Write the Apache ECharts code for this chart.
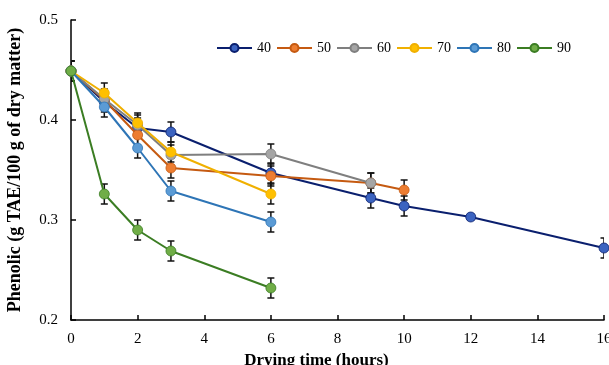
<!DOCTYPE html>
<html>
<head>
<meta charset="utf-8">
<script src="https://cdn.jsdelivr.net/npm/echarts@6/dist/echarts.min.js"></script>
<style>
  html, body { margin: 0; padding: 0; background: #fff; }
  #chart { width: 609px; height: 365px; }
</style>
</head>
<body>
<div id="chart"></div>
<script>
// 数据
const temps = ['40', '50', '60', '70', '80', '90'];

const x40 = [0, 1, 2, 3, 6, 9, 10, 12, 16];
const y40 = [0.449, 0.418, 0.392, 0.388, 0.347, 0.322, 0.314, 0.303, 0.272];
const e40 = [0.01, 0.01, 0.01, 0.01, 0.01, 0.01, 0.01, 0.003, 0.01];

const x50 = [0, 1, 2, 3, 6, 9, 10];
const y50 = [0.449, 0.420, 0.385, 0.352, 0.344, 0.337, 0.330];
const e50 = [0.01, 0.01, 0.01, 0.01, 0.01, 0.01, 0.01];

const x60 = [0, 1, 2, 3, 6, 9];
const y60 = [0.449, 0.421, 0.395, 0.365, 0.366, 0.337];
const e60 = [0.01, 0.01, 0.01, 0.01, 0.01, 0.01];

const x70 = [0, 1, 2, 3, 6];
const y70 = [0.449, 0.427, 0.397, 0.368, 0.326];
const e70 = [0.01, 0.01, 0.01, 0.01, 0.01];

const x80 = [0, 1, 2, 3, 6];
const y80 = [0.449, 0.413, 0.372, 0.329, 0.298];
const e80 = [0.01, 0.01, 0.01, 0.01, 0.01];

const x90 = [0, 1, 2, 3, 6];
const y90 = [0.449, 0.326, 0.290, 0.269, 0.232];
const e90 = [0.01, 0.01, 0.01, 0.01, 0.01];

const xs = [x40, x50, x60, x70, x80, x90];
const ys = [y40, y50, y60, y70, y80, y90];
const es = [e40, e50, e60, e70, e80, e90];

const lineColors = ['#0a1f6e', '#c55a11', '#7f7f7f', '#f0b000', '#2e75b6', '#3b7d23'];
const markColors = ['#3b63c0', '#ed7d31', '#a5a5a5', '#ffc000', '#5b9bd5', '#70ad47'];

const serif = '"Liberation Serif", "Times New Roman", serif';

// 误差线
function errorRender(params, api) {
    const x = api.value(0);
    const lo = api.coord([x, api.value(1)]);
    const hi = api.coord([x, api.value(2)]);
    const w = 3.5;
    const style = { stroke: '#111', lineWidth: 1.5 };
    return {
        type: 'group',
        children: [
            { type: 'line', shape: { x1: lo[0], y1: lo[1], x2: hi[0], y2: hi[1] }, style: style },
            { type: 'line', shape: { x1: lo[0] - w, y1: lo[1], x2: lo[0] + w, y2: lo[1] }, style: style },
            { type: 'line', shape: { x1: hi[0] - w, y1: hi[1], x2: hi[0] + w, y2: hi[1] }, style: style }
        ]
    };
}

const series = [];
temps.forEach((t, i) => {
    series.push({
        name: t + '_err',
        type: 'custom',
        renderItem: errorRender,
        data: xs[i].map((x, j) => [x, ys[i][j] - es[i][j], ys[i][j] + es[i][j]]),
        clip: true,
        z: 1,
        silent: true
    });
});
temps.forEach((t, i) => {
    series.push({
        name: t,
        type: 'line',
        data: xs[i].map((x, j) => [x, ys[i][j]]),
        symbol: 'circle',
        symbolSize: 10,
        lineStyle: { color: lineColors[i], width: 2 },
        itemStyle: { color: markColors[i], borderColor: lineColors[i], borderWidth: 0.8 },
        z: 2 + i
    });
});

const chart = echarts.init(document.getElementById('chart'));
chart.setOption({
    animation: false,
    backgroundColor: '#fff',
    grid: { left: 71, right: 5, top: 20, bottom: 45, outerBoundsMode: 'none' },
    legend: {
        data: temps,
        left: 211,
        top: 36,
        itemWidth: 35,
        itemHeight: 10,
        itemGap: 5,
        textStyle: { fontFamily: serif, fontSize: 14, color: '#000' }
    },
    xAxis: {
        type: 'value',
        min: 0,
        max: 16,
        interval: 2,
        name: 'Drying time (hours)',
        nameLocation: 'middle',
        nameGap: 30,
        nameTextStyle: { fontFamily: serif, fontSize: 17, fontWeight: 'bold', color: '#000', padding: [0, 42, 0, 0] },
        axisLine: { lineStyle: { color: '#000', width: 1.5 } },
        axisTick: { inside: true, length: 5, lineStyle: { color: '#000', width: 1.5 } },
        axisLabel: { fontFamily: serif, fontSize: 15, color: '#000', margin: 12 },
        splitLine: { show: false }
    },
    yAxis: {
        type: 'value',
        min: 0.2,
        max: 0.5,
        interval: 0.1,
        name: 'Phenolic (g TAE/100 g of dry matter)',
        nameLocation: 'middle',
        nameGap: 47,
        nameTextStyle: { fontFamily: serif, fontSize: 18, fontWeight: 'bold', color: '#000' },
        axisLine: { show: true, lineStyle: { color: '#000', width: 1.5 } },
        axisTick: { show: true, inside: true, length: 5, lineStyle: { color: '#000', width: 1.5 } },
        axisLabel: { fontFamily: serif, fontSize: 15, color: '#000', margin: 13, formatter: v => v.toFixed(1) },
        splitLine: { show: false }
    },
    series: series
});
</script>
</body>
</html>
